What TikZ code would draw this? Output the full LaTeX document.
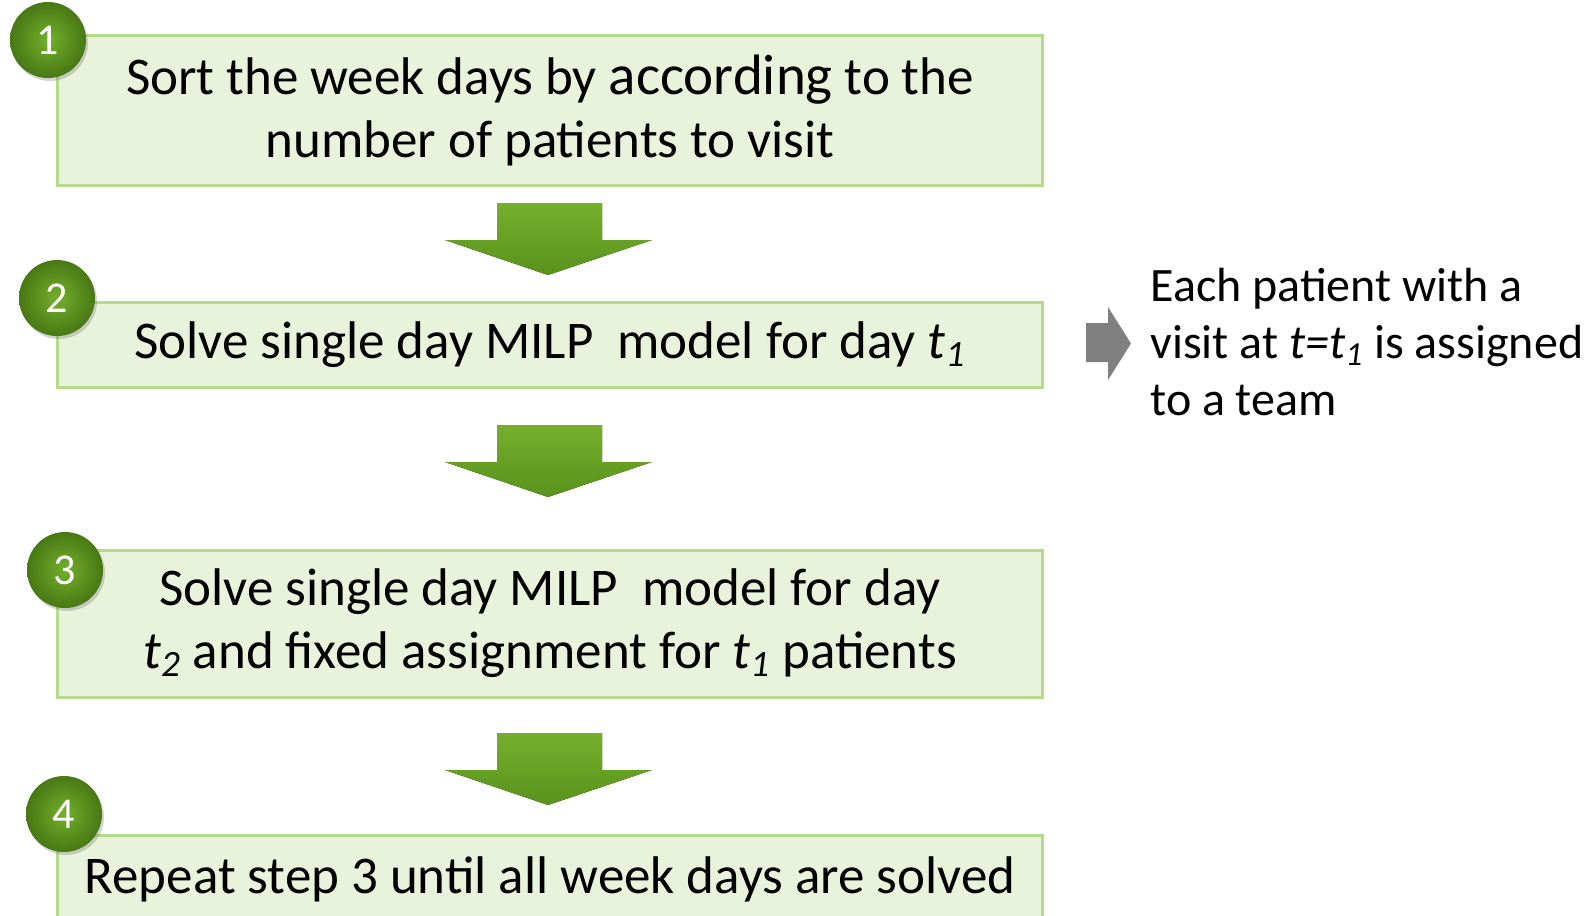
\documentclass[tikz,border=0pt]{standalone}
\usepackage{fontspec}
\setmainfont{Carlito}
\usetikzlibrary{shadows}
\definecolor{boxfill}{RGB}{233,242,218}
\definecolor{boxline}{RGB}{180,220,138}
\definecolor{leaf}{RGB}{90,146,28}
\definecolor{leaflight}{RGB}{116,176,44}
\definecolor{leafdark}{RGB}{72,120,20}

\begin{document}
\begin{tikzpicture}[x=0.5pt, y=-0.5pt,
  stepbox/.style={draw=boxline, line width=1.5pt, fill=boxfill, minimum width=492.5pt, align=center, inner sep=0pt, font=\fontsize{26.5}{31.5}\selectfont},
  stepnum/.style={circle, minimum size=38pt, inner sep=0pt, inner color=leaflight, outer color=leafdark, drop shadow={shadow xshift=1pt, shadow yshift=-1.5pt, opacity=0.35}, text=white, font=\fontsize{22}{22}\selectfont},
  flowarrow/.style={top color=leaflight, bottom color=leaf}]
	\useasboundingbox (0,0) rectangle (1591,916);
	\clip (0,0) rectangle (1591,916);
	% the four steps
	\node[stepbox, minimum height=75pt] (sort) at (550,110) {Sort the week days by {\fontsize{28.5}{31.5}\selectfont according}\ to the\\number of patients to visit};
	\node[stepbox, minimum height=42.75pt] (solve) at (550,345) {Solve single day MILP\ \ model for day \textit{t\textsubscript{1}}};
	\node[stepbox, minimum height=73.5pt] (fix) at (550,623.5) {Solve single day MILP\ \ model for day\\\textit{t\textsubscript{2}} and fixed assignment for \textit{t\textsubscript{1}} patients};
	\node[stepbox, minimum height=44pt] (repeat) at (550,879) {Repeat step 3\ until all week days are solved};
	% numbered badges
	\node[stepnum] (n1) at (48,40) {1};
	\node[stepnum] (n2) at (57,298) {2};
	\node[stepnum] (n3) at (65,570) {3};
	\node[stepnum] (n4) at (64,814) {4};
	% block arrows between the steps
	\foreach \y in {203,425,733}
	  \fill[flowarrow] (497,\y) -- (602,\y) -- (602,\y+37) -- (652,\y+37) -- (548,\y+72) -- (445,\y+37) -- (497,\y+37) -- cycle;
	% side note for step 2
	\fill[gray] (1086,323) -- (1108,323) -- (1108,307) -- (1131,343.5) -- (1108,380) -- (1108,362) -- (1086,362) -- cycle;
	\node[anchor=west, align=left, inner sep=0pt, font=\fontsize{24}{28.5}\selectfont] (assign) at (1150,342) {Each patient with a\\visit at \textit{t=t\textsubscript{1}} is assigned\\to a team};
\end{tikzpicture}
\end{document}
